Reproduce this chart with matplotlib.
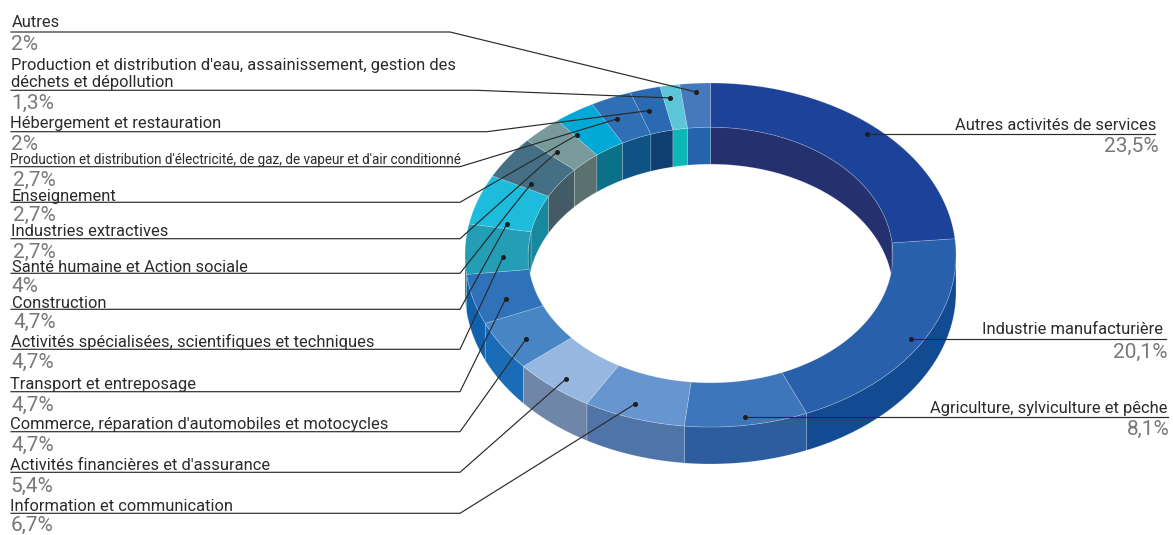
"""Sector split shown as a tilted 3D ring, drawn in pixel coordinates."""

import matplotlib

matplotlib.use("Agg")
import matplotlib.pyplot as plt
import numpy as np

# ---- data ---------------------------------------------------------------
sectors = [
    "Autres activités de services",
    "Industrie manufacturière",
    "Agriculture, sylviculture et pêche",
    "Information et communication",
    "Activités financières et d'assurance",
    "Commerce, réparation d'automobiles et motocycles",
    "Transport et entreposage",
    "Activités spécialisées, scientifiques et techniques",
    "Construction",
    "Santé humaine et Action sociale",
    "Industries extractives",
    "Enseignement",
    "Production et distribution d'électricité, de gaz, de vapeur et d'air conditionné",
    "Hébergement et restauration",
    "Production et distribution d'eau, assainissement, gestion des\ndéchets et dépollution",
    "Autres",
]
shares = [23.5, 20.1, 8.1, 6.7, 5.4, 4.7, 4.7, 4.7, 4.7, 4.0, 2.7, 2.7, 2.7, 2.0, 1.3, 2.0]

# ---- colours -------------------------------------------------------------
top_colors = [
    "#1c4299", "#2860ab", "#3e76bc", "#6795cf", "#95b7e0", "#4785c5", "#2f72b9", "#239eb5",
    "#1dbcdc", "#456f85", "#789a9a", "#02a9d6", "#2e6fb5", "#2a6ab3", "#5cc6d8", "#4578bd",
]
wall_colors = [
    "#25316f", "#134b92", "#2b5d9f", "#4f75a8", "#7086a8", "#1a6cb6", "#1261ae", "#0e7f93",
    "#16899d", "#425b67", "#5a7170", "#0b7188", "#0e5286", "#0f3f70", "#0bb8b5", "#2364ad",
]
# the sliver of inner wall behind the right tip keeps the colour of its neighbour
inner_wall_override = {1: "#25316f"}
text_color = "#2b2b2b"
value_color = "#77787b"
rule_color = "#2a2a2a"
seam = (1, 1, 1, 0.25)

# ---- layout (pixels) -----------------------------------------------------
WIDTH, HEIGHT = 1173, 535
CX, CY = 710.5, 255.0
RX, RY = 245.5, 172.0
HOLE = 0.743
DEPTH = 37.0

# where each leader lands on its slice: radius fraction and shift from mid angle
dot_radius = [0.95, 0.95, 0.95, 0.917, 0.929, 0.894, 0.872, 0.845,
              0.848, 0.84, 0.866, 0.885, 0.878, 0.876, 0.928, 0.95]
dot_shift = [0, 0, 0, 1.3, -0.7, -1.1, -2.0, -2.8, -6.6, -5.1, -2.8, -4.2, -1.7, -1.1, -0.7, 0]

# rule y, elbow x, label x / baseline, value x / baseline
rule_y = [134, 339, 416.7, 513.3, 472.3, 431.7, 391.7, 349.3,
          309.3, 273.3, 238.7, 202.3, 166.7, 131.7, 90.3, 32]
elbow_x = [1155, 1166, 1168, 460, 460, 460, 460, 460, 460, 460, 460, 460, 460, 487, 477, 450]
label_x = [1156.7, 1162.7, 1168, 10, 9.5, 9.5, 10, 11, 12, 12, 11, 12, 10.5, 10.5, 11, 11.5]
label_y = [130, 334, 413, 511, 469.7, 429, 389, 347, 307.7, 272, 236, 201, 164, 128, 70, 26.7]
value_x = [1159, 1168, 1170, 10.5, 10.5, 11.5, 12, 11.5, 13, 12, 13, 13, 13, 11, 11, 11]
value_y = [152, 358, 435, 531, 491.7, 450.7, 411, 368, 328, 291.7, 258, 221, 185.7, 150, 109, 50]

RULE_LEFT = 11
LINE_STEP = 17
LABEL_SIZE = 11.9
SMALL_LABEL_SIZE = 9.75
VALUE_SIZE = 15.0

plt.rcParams["font.family"] = ["Roboto", "DejaVu Sans"]


def arc(start, stop, scale=1.0, drop=0.0):
    """Points of a ring arc; angles in degrees, clockwise from 12 o'clock."""
    t = np.radians(np.linspace(start, stop, 90))
    return CX + RX * scale * np.sin(t), CY + drop - RY * scale * np.cos(t)


def draw_wall(ax, start, stop, scale, color):
    xa, ya = arc(start, stop, scale)
    xb, yb = arc(stop, start, scale, DEPTH)
    ax.fill(np.r_[xa, xb], np.r_[ya, yb], facecolor=color, edgecolor=seam, linewidth=0.5, zorder=1)


fig = plt.figure(figsize=(WIDTH / 100, HEIGHT / 100), dpi=100)
ax = fig.add_axes([0, 0, 1, 1])
ax.set_xlim(0, WIDTH)
ax.set_ylim(HEIGHT, 0)
ax.axis("off")

edges = np.r_[0, np.cumsum(shares)] / np.sum(shares) * 360

for i, (a0, a1) in enumerate(zip(edges[:-1], edges[1:])):
    # outer wall shows on the front half, inner wall on the back half
    if max(a0, 90) < min(a1, 270):
        draw_wall(ax, max(a0, 90), min(a1, 270), 1.0, wall_colors[i])
    inner = inner_wall_override.get(i, wall_colors[i])
    if a0 < 90:
        draw_wall(ax, a0, min(a1, 90), HOLE, inner)
    if a1 > 270:
        draw_wall(ax, max(a0, 270), a1, HOLE, inner)

for i, (a0, a1) in enumerate(zip(edges[:-1], edges[1:])):
    xo, yo = arc(a0, a1)
    xi, yi = arc(a1, a0, HOLE)
    ax.fill(np.r_[xo, xi], np.r_[yo, yi], facecolor=top_colors[i], edgecolor=seam,
            linewidth=0.5, zorder=2)

for i, name in enumerate(sectors):
    mid = (edges[i] + edges[i + 1]) / 2 + dot_shift[i]
    dx, dy = arc(mid, mid, dot_radius[i])
    dx, dy = dx[0], dy[0]
    on_right = label_x[i] > CX

    if on_right:
        ax.plot([dx, elbow_x[i]], [rule_y[i], rule_y[i]], color=rule_color, lw=0.85, zorder=3)
    else:
        ax.plot([RULE_LEFT, elbow_x[i], dx], [rule_y[i], rule_y[i], dy],
                color=rule_color, lw=0.85, zorder=3)
    ax.plot(dx, dy, "o", color="#1f1f1f", markersize=2.6, zorder=4)

    ha = "right" if on_right else "left"
    for k, line in enumerate(name.split("\n")):
        size = SMALL_LABEL_SIZE if len(line) > 70 else LABEL_SIZE
        ax.text(label_x[i], label_y[i] + LINE_STEP * k, line, ha=ha, va="baseline",
                fontsize=size, color=text_color)
    ax.text(value_x[i], value_y[i], f"{shares[i]:g}".replace(".", ",") + "%", ha=ha, va="baseline",
            fontsize=VALUE_SIZE, color=value_color)

fig.savefig("out.png", dpi=100, facecolor="white")
